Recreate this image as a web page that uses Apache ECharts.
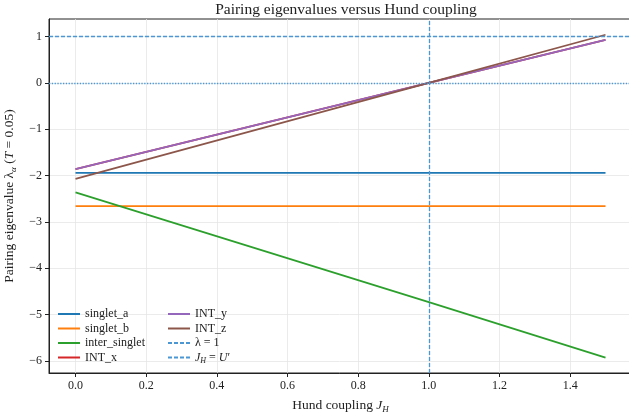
<!DOCTYPE html>
<html>
<head>
<meta charset="utf-8">
<script src="https://cdn.jsdelivr.net/npm/echarts@6/dist/echarts.min.js"></script>
<style>
  html, body { margin: 0; padding: 0; background: #fff; }
  #chart { width: 629px; height: 420px; }
</style>
</head>
<body>
<div id="chart"></div>
<script>
// values
const jh = [0, 1.0, 1.5];
const singletA = [-1.94, -1.94, -1.94];
const singletB = [-2.66, -2.66, -2.66];
const interSinglet = [-2.36, -4.73, -5.93];
const intX = [-1.86, 0, 0.93];
const intY = [-1.86, 0, 0.93];
const intZ = [-2.07, 0, 1.04];

const xTicks = [0, 0.2, 0.4, 0.6, 0.8, 1.0, 1.2, 1.4];
const yTicks = [-6, -5, -4, -3, -2, -1, 0, 1];

const FONT = 'Liberation Serif';
const pair = (ys) => jh.map((x, i) => [x, ys[i]]);
const fmtNum = (v, d) => {
  const s = Math.abs(v).toFixed(d);
  return v < 0 ? '\u2212' + s : s;
};

const lineSeries = (name, color, ys) => ({
  name: name,
  type: 'line',
  data: pair(ys),
  showSymbol: false,
  symbol: 'none',
  lineStyle: { color: color, width: 1.8 },
  itemStyle: { color: color },
  z: 3
});

const refColor = '#4a97d4';

const legendBase = {
  orient: 'vertical',
  top: 303,
  itemWidth: 22, itemHeight: 10, itemGap: 2.5,
  itemStyle: { opacity: 0 }
};

const chart = echarts.init(document.getElementById('chart'), null, { renderer: 'canvas' });
const option = {
  animation: false,
  title: {
    text: 'Pairing eigenvalues versus Hund coupling',
    left: 341,
    textAlign: 'center',
    top: -3,
    textStyle: { fontFamily: FONT, fontSize: 15.5, fontWeight: 'normal', color: '#222' }
  },
  grid: {
    left: 49, top: 19, width: 583, height: 354,
    containLabel: false,
    outerBoundsMode: 'none',
    show: true, borderColor: '#222', borderWidth: 1, backgroundColor: 'transparent'
  },
  legend: [Object.assign({}, legendBase, {
    data: ['singlet_a', 'singlet_b', 'inter_singlet', 'INT_x'],
    left: 52,
    textStyle: { fontFamily: FONT, fontSize: 12, color: '#222' }
  }), Object.assign({}, legendBase, {
    data: ['INT_y', 'INT_z', 'λ = 1', 'J_H = U\''],
    left: 162,
    formatter: function (n) {
      if (n === 'J_H = U\'') return '{i|J}{s|H} = {i|U}\u2032';
      return n;
    },
    textStyle: {
      fontFamily: FONT, fontSize: 12, color: '#222',
      rich: {
        i: { fontFamily: FONT, fontStyle: 'italic', fontSize: 12, color: '#222' },
        s: { fontFamily: FONT, fontStyle: 'italic', fontSize: 8, color: '#222', padding: [6, 0, 0, 0] }
      }
    }
  })],
  xAxis: {
    type: 'value',
    min: -0.075, max: 1.575,
    name: '{t|Hund coupling }{i|J}{s|H}',
    nameLocation: 'middle',
    nameGap: 23,
    nameTextStyle: {
      rich: {
        t: { fontFamily: FONT, fontSize: 13.5, color: '#222' },
        i: { fontFamily: FONT, fontStyle: 'italic', fontSize: 13.5, color: '#222' },
        s: { fontFamily: FONT, fontStyle: 'italic', fontSize: 9, color: '#222', padding: [9, 0, 0, 0] }
      }
    },
    axisLine: { show: true, onZero: false, lineStyle: { color: '#222', width: 1 } },
    axisTick: { show: true, length: 4, customValues: xTicks, lineStyle: { color: '#222' } },
    axisLabel: {
      customValues: xTicks, margin: 7,
      fontFamily: FONT, fontSize: 12, color: '#222',
      formatter: (v) => fmtNum(v, 1)
    },
    splitLine: { show: true, lineStyle: { color: '#e6e6e6', width: 0.8 } }
  },
  yAxis: {
    type: 'value',
    min: -6.26, max: 1.38,
    name: '{t|Pairing eigenvalue }{g|λ}{s|α}{t| (}{i|T}{t| = 0.05)}',
    nameLocation: 'middle',
    nameGap: 26,
    nameRotate: 90,
    nameTextStyle: {
      rich: {
        t: { fontFamily: FONT, fontSize: 13.5, color: '#222' },
        g: { fontFamily: FONT, fontSize: 13.5, color: '#222' },
        i: { fontFamily: FONT, fontStyle: 'italic', fontSize: 13.5, color: '#222' },
        s: { fontFamily: FONT, fontStyle: 'italic', fontSize: 9, color: '#222', padding: [9, 0, 0, 0] }
      }
    },
    axisLine: { show: true, onZero: false, lineStyle: { color: '#222', width: 1 } },
    axisTick: { show: true, length: 4, customValues: yTicks, lineStyle: { color: '#222' } },
    axisLabel: {
      customValues: yTicks, margin: 7,
      fontFamily: FONT, fontSize: 12, color: '#222',
      formatter: (v) => fmtNum(v, 0)
    },
    splitLine: { show: true, lineStyle: { color: '#e6e6e6', width: 0.8 } }
  },
  series: [
    lineSeries('singlet_a', '#1f77b4', singletA),
    lineSeries('singlet_b', '#ff7f0e', singletB),
    lineSeries('inter_singlet', '#2ca02c', interSinglet),
    lineSeries('INT_x', '#d62728', intX),
    lineSeries('INT_y', '#9467bd', intY),
    lineSeries('INT_z', '#8c564b', intZ),
    {
      name: 'λ = 1',
      type: 'line',
      data: [],
      symbol: 'none',
      lineStyle: { color: refColor, width: 1.2, type: [4, 2] },
      itemStyle: { color: refColor },
      markLine: {
        silent: true, symbol: 'none', label: { show: false },
        lineStyle: { color: refColor, width: 1.3, type: [4, 2] },
        data: [{ yAxis: 1 }, { yAxis: 0, lineStyle: { type: [1.3, 1.5] } }]
      },
      z: 2
    },
    {
      name: 'J_H = U\'',
      type: 'line',
      data: [],
      symbol: 'none',
      lineStyle: { color: refColor, width: 1.2, type: [4, 2] },
      itemStyle: { color: refColor },
      markLine: {
        silent: true, symbol: 'none', label: { show: false },
        lineStyle: { color: refColor, width: 1.3, type: [4, 2] },
        data: [{ xAxis: 1 }]
      },
      z: 2
    }
  ]
};
chart.setOption(option);
window.addEventListener('resize', () => chart.resize());
</script>
</body>
</html>
